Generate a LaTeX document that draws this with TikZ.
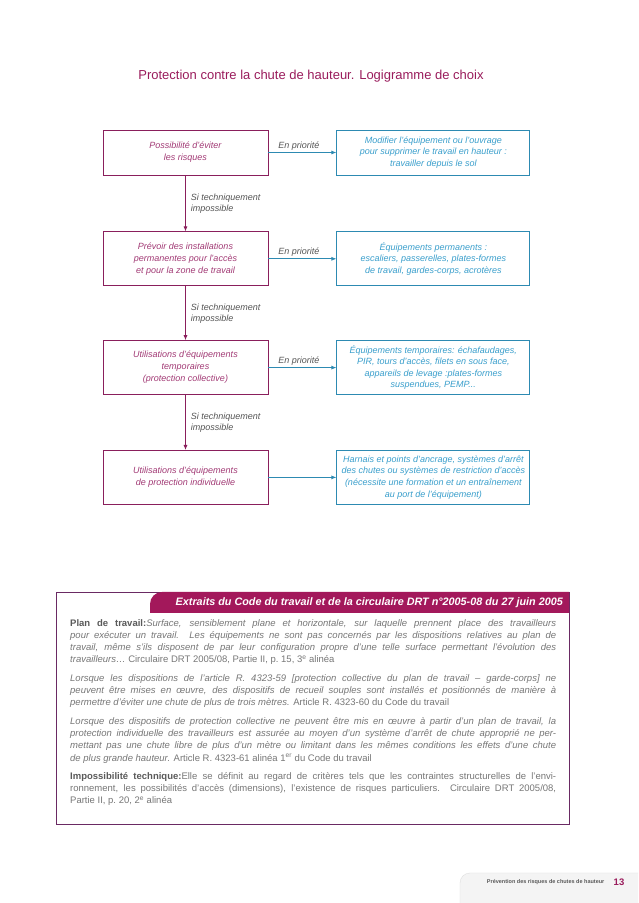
\documentclass[tikz,border=0pt]{standalone}
\usepackage{fontspec}
\setmainfont{Liberation Sans}
\usetikzlibrary{positioning,arrows.meta}
\definecolor{titlemag}{HTML}{9A1C5C}
\definecolor{boxmag}{HTML}{8A1F5C}
\definecolor{textmag}{HTML}{A23A75}
\definecolor{boxblue}{HTML}{2D8AB2}
\definecolor{textblue}{HTML}{3A9FCC}
\definecolor{cuegray}{HTML}{555555}
\definecolor{tabmag}{HTML}{A3185B}
\definecolor{framemag}{HTML}{6A2A63}
\definecolor{bodygray}{HTML}{777777}
\definecolor{boldgray}{HTML}{5A5A5A}
\definecolor{footgray}{HTML}{F4F4F4}
\tikzstyle{choice}=[rectangle,draw=boxmag,line width=0.8pt,text=textmag,align=center,minimum width=165pt,minimum height=54pt,inner sep=2pt,font=\fontsize{9}{12}\selectfont\itshape]
\tikzstyle{means}=[rectangle,draw=boxblue,line width=0.8pt,text=textblue,align=center,minimum width=193pt,minimum height=54pt,inner sep=1pt,font=\fontsize{9}{11.6}\selectfont\itshape]
\tikzstyle{cue}=[text=cuegray,inner sep=1pt,font=\fontsize{9}{11}\selectfont\itshape]
\tikzstyle{down}=[-{Latex[length=5pt,width=4pt]},draw=boxmag,line width=0.8pt]
\tikzstyle{side}=[-{Latex[length=5pt,width=4pt]},draw=boxblue,line width=0.8pt]

\begin{document}
\begin{tikzpicture}[x=1pt,y=1pt]
\useasboundingbox (0,0) rectangle (638,903);
\fill [white] (0,0) rectangle (638,903);
\node (title) at (311,827) [text=titlemag,font=\fontsize{13}{15}\selectfont] {Protection contre la chute de hauteur. Logigramme de choix};
% left column
\node (avoid) at (185.5,750.5) [choice,minimum height=45pt] {Possibilité d'éviter\\les risques};
\node (perm) [choice,below=56pt of avoid] {Prévoir des installations\\permanentes pour l'accès\\et pour la zone de travail};
\node (temp) [choice,below=54pt of perm] {Utilisations d'équipements\\temporaires\\(protection collective)};
\node (indiv) [choice,below=55pt of temp] {Utilisations d'équipements\\de protection individuelle};
% right column
\node (ground) [means,minimum height=45pt,right=68pt of avoid] {Modifier l'équipement ou l'ouvrage\\pour supprimer le travail en hauteur :\\travailler depuis le sol};
\node (permeq) [means,right=68pt of perm] {Équipements permanents :\\escaliers, passerelles, plates-formes\\de travail, gardes-corps, acrotères};
\node (tempeq) [means,right=68pt of temp] {Équipements temporaires: échafaudages,\\PIR, tours d'accès, filets en sous face,\\appareils de levage :plates-formes\\suspendues, PEMP...};
\node (harness) [means,right=68pt of indiv] {Harnais et points d'ancrage, systèmes d'arrêt\\des chutes ou systèmes de restriction d'accès\\(nécessite une formation et un entraînement\\au port de l'équipement)};
\draw [down] (avoid) -- node [cue,right=4pt,align=left] {Si techniquement\\impossible} (perm);
\draw [down] (perm) -- node [cue,right=4pt,align=left] {Si techniquement\\impossible} (temp);
\draw [down] (temp) -- node [cue,right=4pt,align=left] {Si techniquement\\impossible} (indiv);
\draw [side] (avoid) -- node [cue,above=1pt,pos=0.45] {En priorité} (ground);
\draw [side] (perm) -- node [cue,above=1pt,pos=0.45] {En priorité} (permeq);
\draw [side] (temp) -- node [cue,above=1pt,pos=0.45] {En priorité} (tempeq);
\draw [side] (indiv) -- (harness);
% extracts
\draw [framemag,line width=0.9pt] (56,79) rectangle (569,311);
\fill [tabmag] (150,290) [rounded corners=12pt] -- (150,311) [sharp corners] -- (569,311) -- (569,290) -- cycle;
\node (extracts) at (563,300.5) [anchor=east,text=white,inner sep=0pt,font=\fontsize{10.8}{12}\selectfont\bfseries\itshape] {Extraits du Code du travail et de la circulaire DRT n°2005-08 du 27 juin 2005};
\node (body) at (70,284) [anchor=north west,text width=486pt,align=justify,inner sep=0pt,text=bodygray,font=\fontsize{9.5}{12.3}\selectfont] {\setlength{\parskip}{6pt}%
{\color{boldgray}\bfseries Plan de travail:}\textit{Surface, sensiblement plane et horizontale, sur laquelle prennent place des travailleurs\linebreak pour exécuter un travail. Les équipements ne sont pas concernés par les dispositions relatives au plan de\linebreak travail, même s'ils disposent de par leur configuration propre d'une telle surface permettant l'évolution des\linebreak travailleurs\ldots} Circulaire DRT 2005/08, Partie II, p.~15, 3\textsuperscript{e} alinéa\par
\textit{Lorsque les dispositions de l'article R. 4323-59 [protection collective du plan de travail – garde-corps] ne\linebreak peuvent être mises en œuvre, des dispositifs de recueil souples sont installés et positionnés de manière à\linebreak permettre d'éviter une chute de plus de trois mètres.} Article R. 4323-60 du Code du travail\par
\textit{Lorsque des dispositifs de protection collective ne peuvent être mis en œuvre à partir d'un plan de travail, la\linebreak protection individuelle des travailleurs est assurée au moyen d'un système d'arrêt de chute approprié ne per-\linebreak mettant pas une chute libre de plus d'un mètre ou limitant dans les mêmes conditions les effets d'une chute\linebreak de plus grande hauteur.} Article R. 4323-61 alinéa 1\textsuperscript{er} du Code du travail\par
{\color{boldgray}\bfseries Impossibilité technique:}Elle se définit au regard de critères tels que les contraintes structurelles de l'envi-\linebreak ronnement, les possibilités d'accès (dimensions), l'existence de risques particuliers. Circulaire DRT 2005/08,\linebreak Partie II, p.~20, 2\textsuperscript{e} alinéa};
% footer
\fill [footgray] (638,0) -- (460,0) [rounded corners=10pt] -- (460,30) [sharp corners] -- (638,30) -- cycle;
\draw [gray!25,rounded corners=10pt] (460,0) -- (460,30) -- (638,30);
\node (pagenum) at (619,21) [text=titlemag,inner sep=0pt,font=\fontsize{9.5}{11}\selectfont\bfseries] {13};
\node (runhead) [left=9pt of pagenum,text=boldgray,inner sep=0pt,font=\fontsize{5.5}{7}\selectfont\bfseries] {Prévention des risques de chutes de hauteur};
\end{tikzpicture}
\end{document}
